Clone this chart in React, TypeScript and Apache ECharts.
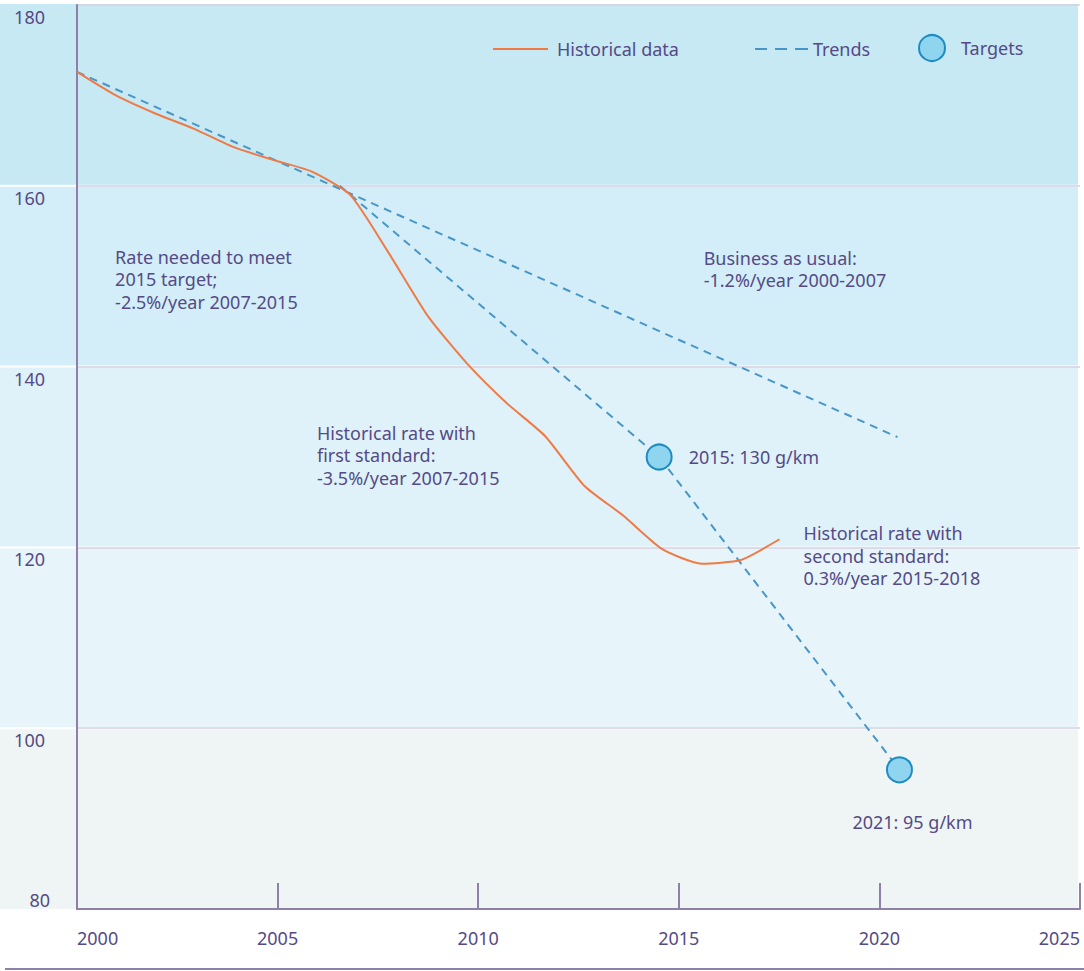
import { useEffect, useRef } from "react";
import * as echarts from "echarts";

// ---- data ----
const xTickYears = [2000, 2005, 2010, 2015, 2020, 2025];
const yBandEdges = [180, 160, 140, 120, 100, 80];
const bandColors = ["#c6e9f4", "#d3eef8", "#dff2f9", "#e7f5fa", "#eff5f5"];

const histYears = [
  2000, 2000.97, 2001.95, 2002.92, 2003.89, 2004.86, 2005.84, 2006.81, 2007.78,
  2008.76, 2009.73, 2010.7, 2011.67, 2012.65, 2013.62, 2014.59, 2015.57, 2016.54, 2017.51,
];
const histValues = [
  172.6, 170.0, 168.0, 166.3, 164.3, 162.9, 161.6, 159.0, 152.5,
  145.5, 140.3, 136.0, 132.3, 126.8, 123.5, 119.8, 118.2, 118.6, 120.9,
];

const bauYears = [2000, 2020.45];
const bauValues = [172.6, 132.2];

const neededYears = [2006.55, 2014.51, 2020.5];
const neededValues = [160, 130, 95.4];

const targetYears = [2014.51, 2020.5];
const targetValues = [130, 95.4];
const targetLabels = ["2015: 130 g/km", "2021: 95 g/km"];

const noteTexts = [
  "Rate needed to meet\n2015 target;\n-2.5%/year 2007-2015",
  "Business as usual:\n-1.2%/year 2000-2007",
  "Historical rate with\nfirst standard:\n-3.5%/year 2007-2015",
  "Historical rate with\nsecond standard:\n0.3%/year 2015-2018",
];
const noteX = [2000.95, 2015.62, 2005.98, 2018.11];
const noteY = [153.4, 153.3, 133.9, 122.8];

const TEXT = "#554a86";
const AXIS = "#8e80a8";
const FONT = "Noto Sans";
const FS = 18;
const ORANGE = "#f07a45";
const BLUE = "#4896c8";

export default function App() {
  const ref = useRef<HTMLDivElement>(null);

  useEffect(() => {
    if (!ref.current) return;
    const chart = echarts.init(ref.current, undefined, { renderer: "svg" });
    const dashed = { color: BLUE, width: 2, type: [8, 6] as any };
    const legendText = { color: TEXT, fontSize: FS, fontFamily: FONT };
    chart.setOption({
      animation: false,
      backgroundColor: "#ffffff",
      textStyle: { fontFamily: FONT },
      grid: { left: 77, right: 4, top: 5, bottom: 62 },
      xAxis: {
        type: "value",
        min: xTickYears[0],
        max: xTickYears[xTickYears.length - 1],
        interval: 5,
        axisLine: { lineStyle: { color: AXIS, width: 2 } },
        axisTick: { inside: true, length: 26, lineStyle: { color: AXIS, width: 2 } },
        axisLabel: {
          margin: 20,
          color: TEXT,
          fontSize: FS,
          fontFamily: FONT,
          alignMinLabel: "left",
          alignMaxLabel: "right",
          formatter: (v: number) => String(v),
        },
        splitLine: { show: false },
      },
      yAxis: [
        {
          type: "value",
          min: 80,
          max: 180,
          interval: 20,
          position: "left",
          axisLine: { show: true, lineStyle: { color: AXIS, width: 2 } },
          axisTick: { show: false },
          axisLabel: {
            margin: 32,
            color: TEXT,
            fontSize: FS,
            fontFamily: FONT,
            verticalAlign: "top",
            padding: [3, 0, 0, 0],
            showMinLabel: false,
          },
          splitLine: { lineStyle: { color: "#d6cfe2", width: 1.5 } },
        },
        {
          type: "value",
          min: 80,
          max: 180,
          interval: 20,
          position: "left",
          axisLine: { show: false },
          axisTick: { show: false },
          splitLine: { show: false },
          axisLabel: {
            margin: 27,
            color: TEXT,
            fontSize: FS,
            fontFamily: FONT,
            verticalAlign: "bottom",
            formatter: (v: number) => (v === 80 ? "80" : ""),
          },
        },
      ],
      legend: [
        {
          left: 493,
          top: 40,
          padding: 0,
          itemWidth: 55,
          itemHeight: 14,
          selectedMode: false,
          data: [
            {
              name: "Historical data",
              icon: "path://M0,0L55,0L55,2L0,2Z",
              itemStyle: { color: ORANGE },
            },
          ],
          textStyle: { ...legendText, padding: [0, 0, 0, 4] },
        },
        {
          left: 755,
          top: 40,
          padding: 0,
          itemWidth: 53,
          itemHeight: 14,
          selectedMode: false,
          data: [
            {
              name: "Trends",
              icon: "path://M0,0h12v2h-12Z M20,0h12v2h-12Z M40,0h13v2h-13Z",
              itemStyle: { color: BLUE },
            },
          ],
          textStyle: legendText,
        },
        {
          left: 918,
          top: 34,
          padding: 0,
          itemWidth: 26,
          itemHeight: 26,
          selectedMode: false,
          data: ["Targets"],
          textStyle: { ...legendText, padding: [0, 0, 0, 11] },
        },
      ],
      series: [
        {
          name: "Trends",
          type: "line",
          symbol: "none",
          data: bauYears.map((x, i) => [x, bauValues[i]]),
          lineStyle: dashed,
          itemStyle: { color: BLUE },
          z: 2,
        },
        {
          name: "Trends",
          type: "line",
          symbol: "none",
          data: neededYears.map((x, i) => [x, neededValues[i]]),
          lineStyle: dashed,
          itemStyle: { color: BLUE },
          z: 2,
        },
        {
          name: "Historical data",
          type: "line",
          symbol: "none",
          smooth: 0.2,
          data: histYears.map((x, i) => [x, histValues[i]]),
          lineStyle: { color: ORANGE, width: 2 },
          itemStyle: { color: ORANGE },
          z: 3,
        },
        {
          name: "Targets",
          type: "scatter",
          symbolSize: 25,
          itemStyle: { color: "#8fd5ef", borderColor: "#1e8bc3", borderWidth: 2, opacity: 1 },
          label: { color: TEXT, fontSize: FS, fontFamily: FONT },
          data: targetYears.map((x, i) => ({
            value: [x, targetValues[i]],
            label:
              i === 0
                ? { show: true, position: "right", distance: 16, formatter: targetLabels[i] }
                : { show: true, position: "bottom", distance: 30, offset: [13, 0], formatter: targetLabels[i] },
          })),
          z: 5,
        },
      ],
    });

    // background bands and annotations, placed through the axes' scales
    const yPix = yBandEdges.map((v) => chart.convertToPixel({ yAxisIndex: 0 }, v) as number);
    const xRight = chart.convertToPixel({ xAxisIndex: 0 }, xTickYears[xTickYears.length - 1]) as number;
    const graphics: any[] = [];
    for (let i = 0; i < bandColors.length; i++) {
      const top = yPix[i] + (i > 0 ? 1 : -1);
      const bottom = yPix[i + 1] - (i < bandColors.length - 1 ? 1 : 0);
      graphics.push({
        type: "rect",
        z: -10,
        silent: true,
        shape: { x: 0, y: top, width: xRight - 2, height: bottom - top },
        style: { fill: bandColors[i] },
      });
    }
    noteTexts.forEach((t, i) => {
      const p = chart.convertToPixel({ xAxisIndex: 0, yAxisIndex: 0 }, [noteX[i], noteY[i]]) as number[];
      graphics.push({
        type: "text",
        x: p[0],
        y: p[1],
        z: 10,
        silent: true,
        style: {
          text: t,
          fill: TEXT,
          fontSize: FS,
          fontFamily: FONT,
          lineHeight: 22.5,
          verticalAlign: "top",
          align: "left",
        },
      });
    });
    const yBottom = yPix[yPix.length - 1];
    graphics.push({
      type: "line",
      z: 10,
      silent: true,
      shape: { x1: 5, y1: yBottom + 60, x2: 1084, y2: yBottom + 60 },
      style: { stroke: AXIS, lineWidth: 2 },
    });
    chart.setOption({ graphic: graphics });

    return () => chart.dispose();
  }, []);

  return (
    <div
      ref={ref}
      style={{ position: "fixed", left: 0, top: 0, width: 1084, height: 971 }}
    />
  );
}
